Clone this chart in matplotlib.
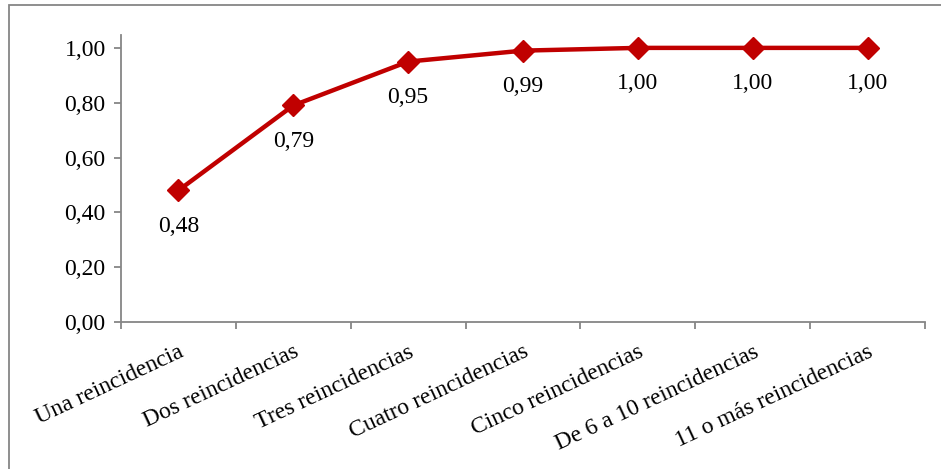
import matplotlib.pyplot as plt
from matplotlib.patches import Rectangle

plt.rcParams['font.family'] = ['Liberation Serif', 'DejaVu Serif']

categorias = ['Una reincidencia', 'Dos reincidencias', 'Tres reincidencias',
              'Cuatro reincidencias', 'Cinco reincidencias',
              'De 6 a 10 reincidencias', '11 o más reincidencias']
acumulado = [0.48, 0.79, 0.95, 0.99, 1.00, 1.00, 1.00]
yticks = [0.0, 0.2, 0.4, 0.6, 0.8, 1.0]

rojo = '#C00000'
gris = '#868686'
fs = 17

fig = plt.figure(figsize=(9.41, 4.69), dpi=100)
ax = fig.add_axes([121 / 941, 1 - 322 / 469, (925 - 121) / 941, (322 - 35) / 469])

x = list(range(len(categorias)))
ax.plot(x, acumulado, color=rojo, linewidth=3.2, marker='D', markersize=11,
        markerfacecolor=rojo, markeredgecolor=rojo, zorder=3)

for xi, v in zip(x, acumulado):
    ax.annotate(f'{v:.2f}'.replace('.', ','), (xi, v), xytext=(0, -26),
                textcoords='offset points', ha='center', va='center', fontsize=fs)

ax.set_xlim(-0.5, len(categorias) - 0.5)
ax.set_ylim(0, 1.047)
ax.set_yticks(yticks)
ax.set_yticklabels([f'{t:.2f}'.replace('.', ',') for t in yticks], fontsize=fs)
ax.set_xticks([i - 0.5 for i in range(len(categorias) + 1)], minor=False)
ax.set_xticklabels([])
ax.set_xticks(x, minor=True)
ax.set_xticklabels(categorias, minor=True, rotation=25, ha='right', va='top',
                   rotation_mode='anchor', fontsize=fs)
ax.tick_params(axis='x', which='minor', length=0, pad=14)
ax.tick_params(axis='x', which='major', length=5, color=gris, width=1.3)
ax.tick_params(axis='y', length=5, color=gris, width=1.3, pad=6)

for s in ['top', 'right']:
    ax.spines[s].set_visible(False)
for s in ['left', 'bottom']:
    ax.spines[s].set_color(gris)
    ax.spines[s].set_linewidth(1.3)

# marco exterior del gráfico
fig.patches.append(Rectangle((9 / 941, -0.1), 1.2, 1 - 5 / 469 + 0.1,
                             transform=fig.transFigure, fill=False,
                             edgecolor=gris, linewidth=1.3))

fig.savefig('out.png', dpi=100)
